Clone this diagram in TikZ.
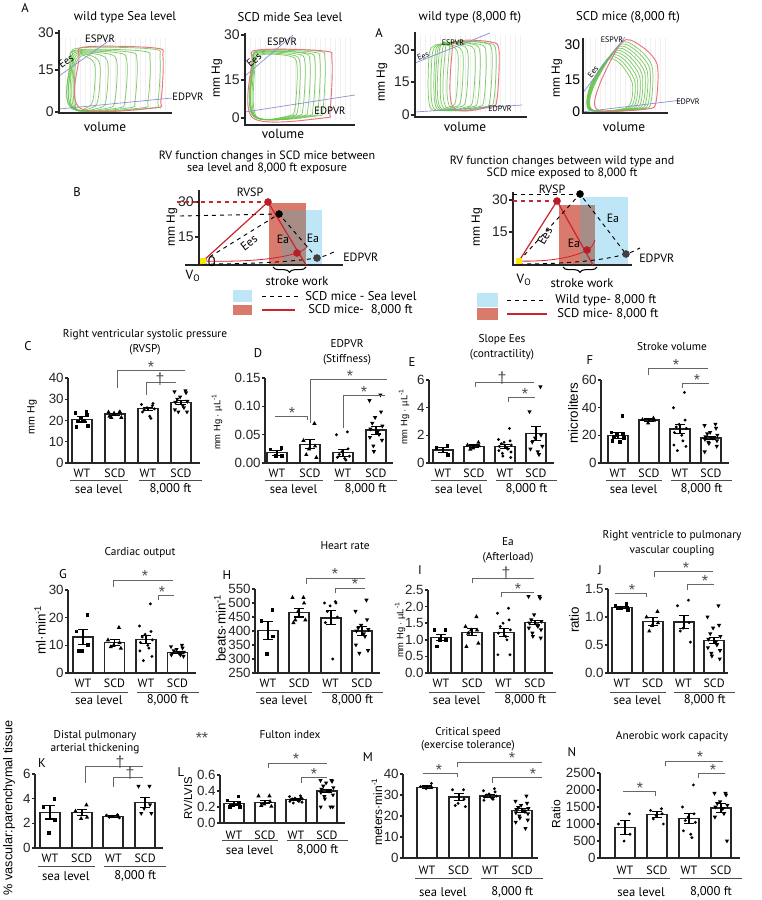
\documentclass[tikz,border=0pt]{standalone}
\usepackage{fontspec}
\setmainfont{PT Sans}
\newfontfamily\numfont{Liberation Sans}
\usetikzlibrary{calc,decorations.pathreplacing}
\definecolor{loopgreen}{RGB}{105,195,75}
\definecolor{loopred}{RGB}{232,115,125}
\definecolor{pvrblue}{RGB}{140,140,210}
\definecolor{swblue}{RGB}{190,230,246}
\definecolor{swred}{RGB}{217,122,108}
\definecolor{swboth}{RGB}{168,140,134}
\definecolor{linered}{RGB}{205,35,45}
\definecolor{ptred}{RGB}{185,30,40}
\definecolor{vzero}{RGB}{250,230,0}

\tikzset{
  axisline/.style={line width=1.1pt, black!85},
  barbox/.style={line width=1pt, black!85, fill=white},
  errbar/.style={line width=0.8pt, black},
  sigline/.style={line width=0.6pt, black!60},
  sigmark/.style={font=\numfont\fontsize{12}{12}\selectfont, text=black!70, inner sep=0pt, yshift=-2.5pt},
  ticklab/.style={left, inner sep=0.5pt, font=\numfont\fontsize{10}{10}\selectfont},
  catlab/.style={font=\fontsize{9}{9}\selectfont, inner sep=0pt},
  grpline/.style={line width=0.6pt, black!70},
  ptitle/.style={align=center, font=\fontsize{8.5}{11.5}\selectfont, inner sep=0pt},
  plabel/.style={font=\fontsize{9.5}{9.5}\selectfont, inner sep=0pt},
  ylab/.style={rotate=90, font=\numfont\fontsize{8}{8}\selectfont, inner sep=0pt},
  gridfaint/.style={black!6, line width=0.25pt},
  loopg/.style={loopgreen, line width=0.55pt, opacity=0.85},
  loopr/.style={loopred, line width=0.7pt},
  pvr/.style={pvrblue, line width=0.5pt},
  pvtext/.style={font=\fontsize{8}{8}\selectfont, inner sep=0pt},
  atitle/.style={font=\fontsize{9.5}{9.5}\selectfont, inner sep=0pt},
  btext/.style={font=\fontsize{9}{9}\selectfont, inner sep=0pt},
  redline/.style={linered, line width=0.9pt},
  blackdash/.style={black, dashed, line width=0.7pt},
  ptdot/.style={circle, fill=#1, inner sep=0pt, minimum size=5.5pt},
  brace/.style={decorate, decoration={brace, mirror, amplitude=4pt}, line width=0.8pt},
}

% scatter markers
\newcommand{\mksq}[2]{\fill ({#1},{#2}) ++(-1.4pt,-1.4pt) rectangle ++(2.8pt,2.8pt);}
\newcommand{\mkup}[2]{\fill ({#1},{#2}) ++(0,1.8pt) -- ++(-1.6pt,-2.9pt) -- ++(3.2pt,0) -- cycle;}
\newcommand{\mkdn}[2]{\fill ({#1},{#2}) ++(0,-1.8pt) -- ++(-1.6pt,2.9pt) -- ++(3.2pt,0) -- cycle;}
\newcommand{\mkci}[2]{\fill ({#1},{#2}) circle (1.2pt);}

% axis: top value, ticks value/label, x end
\newcommand{\yaxis}[3]{%
  \draw[axisline] (0,#1) -- (0,0) -- (#3,0);
  \foreach \t/\l [count=\n] in {#2}
    \draw[axisline] (0,\t) -- (-3,\t) node[ticklab] (tk\n) {\l};
}
% bar: centre, mean, sem, marker, values
\newcommand{\dbar}[5]{%
  \draw[barbox] ({#1-10},0) rectangle ({#1+10},{#2});
  \foreach \v [count=\k] in {#5} {#4{#1+6.5*sin(\k*137)}{\v}}
  \draw[errbar] ({#1-5},{#2+#3}) -- ({#1+5},{#2+#3})
    ({#1},{#2+#3}) -- ({#1},{#2-#3})
    ({#1-5},{#2-#3}) -- ({#1+5},{#2-#3});
}
% group labels under a chart
\newcommand{\xgroups}[7]{%
  \begin{scope}[shift={(#1,#2)}]
    \foreach \lab [count=\i] in {WT,SCD,WT,SCD}
      \node[catlab] (cat\i) at ({#3+(\i-1)*#4},#5) {\lab};
    \draw[grpline] ({#3-12},#6) -- ({#3+#4+13},#6);
    \draw[grpline] ({#3+2*#4-9},#6) -- ({#3+3*#4+21},#6);
    \node[catlab, font=\fontsize{9.5}{9.5}\selectfont] (sea) at ({#3+0.5*#4},#7) {sea level};
    \node[catlab, font=\fontsize{9.5}{9.5}\selectfont] (alt) at ({#3+2.5*#4+6},#7) {8,000 ft};
  \end{scope}}
% pressure-volume loops
\newcommand{\pvloop}[5][loopg]{%
  \draw[#1] plot[smooth cycle, tension=0.55] coordinates {(#2,#5) ({#2-1},{#4+12}) ({#2+5},#4) ({#3-8},{#4+1}) (#3,{#4+10}) ({#3-2},{#5-8}) ({#3-9},#5)};}
\newcommand{\triloop}[5][loopg]{%
  \draw[#1] plot[smooth cycle, tension=0.5] coordinates {({#2},110) ({#2+1},86) ({#3},{#4}) ({(#3+#5)/2},{#4+3}) ({#5},{#4+22}) ({#5-1},102) ({#5-10},109)};}

\begin{document}
\begin{tikzpicture}[x=0.75pt, y=-0.75pt]
  \fill[white] (0,0) rectangle (761,900);
  \useasboundingbox (0,0) rectangle (761,900);

  % A: wild type sea level
  \node[plabel] (lA) at (25,8) {A};
  \node[atitle] (tA1) at (125,17) {wild type Sea level};
  \draw[gridfaint, step=5] (60,38) grid (167,110);
  \foreach \l/\r/\t in {74/160/48,72/150/50,71/137/51,72/127/52,73/117/53,74/108/54,75/100/55,76/95/56}
    \pvloop{\l}{\r}{\t}{108};
  \pvloop[loopr]{80}{163}{47}{108}
  \draw[pvr] (59,76) -- (110,40);
  \draw[pvr] (59,109) -- (172,98);
  \draw[axisline] (59,30) -- (59,113) -- (172,113);
  \foreach \y/\l in {33/30,70/15,112/0}
    \draw[axisline] (59,\y) -- ++(-4,0) node[ticklab, font=\numfont\fontsize{10.5}{10.5}\selectfont] (a1t\l) {\l};
  \node[pvtext] (esA1) at (100,39) {ESPVR};
  \node[pvtext, rotate=35] (eeA1) at (66,61) {Ees};
  \node[pvtext] (edA1) at (188,97) {EDPVR};
  \node[atitle, font=\fontsize{10}{10}\selectfont] (vA1) at (105,127) {volume};

  % A: SCD sea level
  \node[atitle] (tA2) at (290,17) {SCD mide Sea level};
  \draw[gridfaint, step=5] (246,38) grid (352,120);
  \foreach \l/\r/\t in {255/325/50,254/320/51,254/315/52,253/310/52,254/305/53,255/300/54,256/297/55}
    \pvloop{\l}{\r}{\t}{116};
  \pvloop[loopr]{253}{332}{50}{118}
  \draw[pvr] (245,76) -- (293,35);
  \draw[pvr] (245,112) -- (355,95);
  \draw[axisline] (245,33) -- (245,125) -- (355,125);
  \foreach \y/\l in {35/30,80/15,118/0}
    \draw[axisline] (245,\y) -- ++(-4,0) node[ticklab, font=\numfont\fontsize{10.5}{10.5}\selectfont] (a2t\l) {\l};
  \node[ylab, font=\numfont\fontsize{9}{9}\selectfont] (yA2) at (217,78) {mm Hg};
  \node[pvtext] (esA2) at (282,42) {ESPVR};
  \node[pvtext, rotate=40] (eeA2) at (254,60) {Ees};
  \node[pvtext] (edA2) at (330,111) {EDPVR};
  \node[atitle, font=\fontsize{10}{10}\selectfont] (vA2) at (283,134) {volume};

  % A: wild type 8,000 ft
  \node[plabel] (lA2) at (379,33) {A};
  \node[ylab, font=\numfont\fontsize{9}{9}\selectfont] (yA3) at (382,82) {mm Hg};
  \node[atitle] (tA3) at (470,17) {wild type (8,000 ft)};
  \draw[gridfaint, step=5] (416,35) grid (520,112);
  \foreach \l/\r/\t in {430/458/45,433/463/45,436/468/44,438/475/44,440/480/43,443/486/43,446/492/42,450/496/42}
    \pvloop{\l}{\r}{\t}{107};
  \pvloop[loopr]{453}{499}{41}{107}
  \draw[pvr] (415,63) -- (490,33);
  \draw[pvr] (415,112) -- (522,105);
  \draw[axisline] (415,32) -- (415,117) -- (527,117);
  \foreach \y/\l in {50/30,82/15,115/0}
    \draw[axisline] (415,\y) -- ++(-4,0) node[ticklab, font=\numfont\fontsize{10.5}{10.5}\selectfont] (a3t\l) {\l};
  \node[pvtext, font=\fontsize{6}{6}\selectfont] (esA3) at (453,43) {ESPVR};
  \node[pvtext, font=\fontsize{6}{6}\selectfont, rotate=22] (eeA3) at (423,56) {Ees};
  \node[pvtext, font=\fontsize{6}{6}\selectfont] (edA3) at (500,109) {EDPVR};
  \node[atitle, font=\fontsize{10}{10}\selectfont] (vA3) at (465,127) {volume};

  % A: SCD mice 8,000 ft
  \node[atitle] (tA4) at (628,17) {SCD mice (8,000 ft)};
  \draw[gridfaint, step=5] (584,38) grid (668,110);
  \foreach \i in {0,...,8}
    \triloop{589+0.5*\i}{607+1.6*\i}{60-2*\i}{632+2.5*\i};
  \triloop[loopr]{598}{622}{42}{657}
  \draw[pvr] (582,94) -- (625,37);
  \draw[pvr] (582,112) -- (682,100);
  \draw[axisline] (583,38) -- (583,113) -- (668,113);
  \foreach \y/\l in {45/30,80/15,112/0}
    \node[ticklab, font=\numfont\fontsize{10.5}{10.5}\selectfont] (a4t\l) at (581,\y) {\l};
  \node[ylab, font=\numfont\fontsize{9}{9}\selectfont] (yA4) at (557,78) {mm Hg};
  \node[pvtext, font=\fontsize{6}{6}\selectfont] (esA4) at (612,40) {ESPVR};
  \node[pvtext, font=\fontsize{6}{6}\selectfont, rotate=50] (eeA4) at (593,72) {Ees};
  \node[pvtext, font=\fontsize{6}{6}\selectfont] (edA4) at (688,102) {EDPVR};
  \node[atitle, font=\fontsize{10}{10}\selectfont] (vA4) at (624,127) {volume};

  % B: SCD mice, sea level vs 8,000 ft
  \node[plabel] (lB) at (77,192) {B};
  \node[btext, align=center, font=\fontsize{9}{9}\selectfont] (tB1) at (267,162) {RV function changes in SCD mice between\\sea level and 8,000 ft exposure};
  \fill[swblue] (282,210) rectangle (322,265);
  \fill[swred] (269,203) rectangle (306,265);
  \fill[swboth] (282,210) rectangle (306,265);
  \draw[axisline] (199,190) -- (199,265);
  \draw[axisline] (185,265) -- (343,265);
  \draw[axisline] (199,202) -- ++(-4,0) node[ticklab, font=\numfont\fontsize{10.5}{10.5}\selectfont] (b1t30) {30};
  \draw[axisline] (199,237) -- ++(-4,0) node[ticklab, font=\numfont\fontsize{10.5}{10.5}\selectfont] (b1t15) {15};
  \node[ticklab, right, font=\numfont\fontsize{10.5}{10.5}\selectfont] (b1t0) at (207,262) {0};
  \node[ylab, font=\numfont\fontsize{9}{9}\selectfont] (yB1) at (172,227) {mm Hg};
  \node[btext, font=\fontsize{10}{10}\selectfont] (v0B1) at (193,276) {V\textsubscript{O}};
  \node[btext] (rvB1) at (250,192) {RVSP};
  \coordinate (v0a) at (203,261);
  \coordinate (rea) at (306,265);
  \node[ptdot=ptred] (rsa) at (268,202) {};
  \node[ptdot=black] (bsa) at (279,214) {};
  \node[ptdot=ptred] (rda) at (297,253) {};
  \node[ptdot=black!75] (bda) at (317,258) {};
  \draw[redline, dashed] (177,202) -- (rsa.center);
  \draw[blackdash] (180,216) -- (bsa.center);
  \draw[linered, line width=0.6pt] (v0a) .. controls (240,262) and (275,260) .. (rda.center) .. controls (302,251) .. (308,246);
  \draw[blackdash] (203,264) .. controls (250,264) and (290,262) .. (bda.center) .. controls (325,256) .. (336,251);
  \draw[redline] (v0a) -- (rsa.center) -- (rea);
  \draw[blackdash] (v0a) -- (bsa.center) -- (bda.center);
  \node[ptdot=ptred] at (rsa) {};
  \node[ptdot=black] at (bsa) {};
  \node[ptdot=ptred] at (rda) {};
  \node[ptdot=black!75] at (bda) {};
  \fill[vzero] (200,258) rectangle (206,264);
  \node[btext, rotate=38] (eeB1) at (249,243) {Ees};
  \node[btext] (eaB1) at (283,239) {Ea};
  \node[btext] (ebB1) at (313,238) {Ea};
  \node[btext, anchor=west] (edB1) at (343,257) {EDPVR};
  \draw[brace] (273,267) -- (306,267);
  \node[btext, font=\fontsize{9.5}{9.5}\selectfont] (swB1) at (297,281) {stroke work};
  \fill[swblue] (233,290) rectangle (252,302);
  \draw[blackdash] (262,296) -- (302,296);
  \node[btext, anchor=west, font=\fontsize{9.5}{9.5}\selectfont] (lgB1) at (305,296) {SCD mice - Sea level};
  \fill[swred] (233,305) rectangle (252,315);
  \draw[redline] (262,310) -- (295,310);
  \node[btext, anchor=west, font=\fontsize{9.5}{9.5}\selectfont] (lgB2) at (308,310) {SCD mice-\ \ 8,000 ft};

  % B: wild type vs SCD at 8,000 ft
  \node[btext, align=center, font=\fontsize{9}{9}\selectfont] (tB2) at (562,167) {RV function changes between wild type and\\SCD mice exposed to 8,000 ft};
  \fill[swblue] (580,197) rectangle (628,265);
  \fill[swred] (559,205) rectangle (595,265);
  \fill[swboth] (580,205) rectangle (595,265);
  \draw[axisline] (513,192) -- (513,265) -- (632,265);
  \draw[axisline] (513,200) -- ++(-4,0) node[ticklab, font=\numfont\fontsize{10.5}{10.5}\selectfont] (b2t30) {30};
  \draw[axisline] (513,232) -- ++(-4,0) node[ticklab, font=\numfont\fontsize{10.5}{10.5}\selectfont] (b2t15) {15};
  \node[ylab, font=\numfont\fontsize{9}{9}\selectfont] (yB2) at (477,227) {mm Hg};
  \node[btext, font=\fontsize{10}{10}\selectfont] (v0B2) at (524,280) {V\textsubscript{O}};
  \node[btext] (rvB2) at (552,189) {RVSP};
  \coordinate (v0b) at (519,261);
  \coordinate (reb) at (593,265);
  \node[ptdot=ptred] (rsb) at (557,201) {};
  \node[ptdot=black] (bsb) at (580,194) {};
  \node[ptdot=ptred] (rdb) at (587,250) {};
  \node[ptdot=black!75] (bdb) at (626,254) {};
  \draw[blackdash] (513,194) -- (bsb.center);
  \draw[redline, dashed] (513,201) -- (rsb.center);
  \draw[linered, line width=0.6pt] (v0b) .. controls (550,262) and (575,257) .. (rdb.center) .. controls (592,247) .. (595,240);
  \draw[blackdash] (519,264) .. controls (570,264) and (605,260) .. (bdb.center) .. controls (632,252) .. (640,248);
  \draw[redline] (v0b) -- (rsb.center) -- (reb);
  \draw[blackdash] (v0b) -- (bsb.center) -- (bdb.center);
  \node[ptdot=ptred] at (rsb) {};
  \node[ptdot=black] at (bsb) {};
  \node[ptdot=ptred] at (rdb) {};
  \node[ptdot=black!75] at (bdb) {};
  \fill[vzero] (516,258) rectangle (522,264);
  \node[btext, rotate=60] (eeB2) at (545,236) {Ees};
  \node[btext] (eaB2) at (574,243) {Ea};
  \node[btext] (ebB2) at (613,218) {Ea};
  \node[btext, anchor=west] (edB2) at (639,258) {EDPVR};
  \draw[brace] (563,267) -- (597,267);
  \node[btext, font=\fontsize{9.5}{9.5}\selectfont] (swB2) at (582,283) {stroke work};
  \fill[swblue] (477,293) rectangle (498,307);
  \draw[blackdash] (507,300) -- (547,300);
  \node[btext, anchor=west, font=\fontsize{9.5}{9.5}\selectfont] (lgB3) at (555,300) {Wild type- 8,000 ft};
  \fill[swred] (477,308) rectangle (498,320);
  \draw[redline] (507,314) -- (547,314);
  \node[btext, anchor=west, font=\fontsize{9.5}{9.5}\selectfont] (lgB4) at (557,314) {SCD mice- 8,000 ft};

  % C: RVSP
  \node[plabel] (lC) at (28,346) {C};
  \node[ptitle] (tC) at (145,342) {Right ventricular systolic pressure\\(RVSP)};
  \node[ylab] (yC) at (32,417) {mm Hg};
  \begin{scope}[shift={(68,463)}, y={(0pt,1.594pt)}]
    \yaxis{40}{0/0,10/10,20/20,30/30,40/40}{132}
    \dbar{14}{20.5}{1.2}{\mksq}{24,23.5,22.5,21,19.5,17.5,17,20}
    \dbar{47}{23}{0.5}{\mkup}{24,24,24,23.5,21.5,21.5,22}
    \dbar{80}{25.5}{0.8}{\mkci}{27,27.5,28,26,25,25.5,24,22,21}
    \dbar{113}{28.5}{1}{\mkdn}{34,33.5,33,31,30,29,28.5,27,26,25,24,24}
  \end{scope}
  \xgroups{68}{463}{14}{33}{10}{17}{26}
  \draw[sigline] (117,388) |- (185,370);
  \node[sigmark] (sC1) at (151,364) {*};
  \draw[sigline] (146,395) |- (176,382);
  \node[sigmark] (sC2) at (160,376) {\textdagger};

  % D: EDPVR
  \node[plabel] (lD) at (258,353) {D};
  \node[ptitle] (tD) at (347,352) {EDPVR\\(Stiffness)};
  \node[ylab, font=\numfont\fontsize{7}{7}\selectfont] (yD) at (217,422) {mm Hg $\cdot$ µL\textsuperscript{-1}};
  \begin{scope}[shift={(265,463)}, y={(0pt,425pt)}]
    \yaxis{0.15}{0/0.00,0.05/0.05,0.1/0.10,0.15/0.15}{128}
    \dbar{12}{0.018}{0.004}{\mksq}{0.027,0.024,0.012,0.012}
    \dbar{45}{0.033}{0.008}{\mkup}{0.07,0.04,0.03,0.025,0.015,0.01}
    \dbar{78}{0.018}{0.006}{\mkci}{0.055,0.05,0.025,0.02,0.015,0.012,0.01,0.008,0.005}
    \dbar{111}{0.058}{0.007}{\mkdn}{0.12,0.11,0.09,0.08,0.07,0.065,0.06,0.055,0.05,0.045,0.04,0.03,0.02}
  \end{scope}
  \xgroups{265}{463}{12}{33}{10}{17}{26}
  \draw[sigline] (275,416) -| (307,420);
  \node[sigmark] (sD1) at (292,410) {*};
  \draw[sigline] (310,423) |- (387,379);
  \node[sigmark] (sD2) at (350,373) {*};
  \draw[sigline] (343,428) |- (385,395);
  \node[sigmark] (sD3) at (364,389) {*};

  % E: Slope Ees
  \node[plabel] (lE) at (412,362) {E};
  \node[ptitle] (tE) at (502,347) {Slope Ees\\(contractility)};
  \node[ylab, font=\numfont\fontsize{7}{7}\selectfont] (yE) at (404,417) {mm Hg $\cdot$ µL\textsuperscript{-1}};
  \begin{scope}[shift={(429,463)}, y={(0pt,10.375pt)}]
    \yaxis{6}{0/0,2/2,4/4,6/6}{125}
    \dbar{14}{0.95}{0.2}{\mksq}{1.25,1.1,0.6}
    \dbar{45}{1.2}{0.1}{\mkup}{1.5,1.3,1.25,1.1,1.0}
    \dbar{76}{1.2}{0.15}{\mkci}{2.5,1.7,1.6,1.5,1.4,1.3,1.2,1.1,1.0,0.9,0.8,0.7,0.5,0.4}
    \dbar{107}{2.15}{0.5}{\mkdn}{5.5,3.7,2.0,1.8,1.5,1.2,1.0,0.8,0.6}
  \end{scope}
  \xgroups{429}{463}{14}{31}{10}{17}{26}
  \draw[sigline] (475,387) |- (534,382);
  \node[sigmark] (sE1) at (502,375) {\textdagger};
  \draw[sigline] (508,402) |- (535,397);
  \node[sigmark] (sE2) at (525,391) {*};

  % F: stroke volume
  \node[plabel] (lF) at (590,360) {F};
  \node[ptitle] (tF) at (672,347) {Stroke volume};
  \node[ylab, font=\numfont\fontsize{10}{10}\selectfont] (yF) at (573,413) {microliters};
  \begin{scope}[shift={(601,463)}, y={(0pt,1.0375pt)}]
    \yaxis{60}{0/0,20/20,40/40,60/60}{128}
    \dbar{17}{20}{2}{\mksq}{34,22,21,20,19,18,16,15}
    \dbar{48}{31}{0.8}{\mkup}{32.5,31.5,31,29}
    \dbar{79}{24.5}{3}{\mkci}{51,40,31,28,26,25,22,20,16,13,12,9}
    \dbar{110}{18}{1.2}{\mkdn}{28,27,25,22,21,20,19,18,18,17,16,15,14,12,8}
  \end{scope}
  \xgroups{601}{463}{17}{31}{10}{17}{26}
  \draw[sigline] (648,375) |- (708,368);
  \node[sigmark] (sF1) at (676,362) {*};
  \draw[sigline] (682,388) |- (709,383);
  \node[sigmark] (sF2) at (697,377) {*};

  % G: cardiac output
  \node[plabel] (lG) at (63,574) {G};
  \node[ptitle] (tG) at (140,553) {Cardiac output};
  \node[ylab, font=\numfont\fontsize{10}{10}\selectfont] (yG) at (40,630) {ml·min\textsuperscript{-1}};
  \begin{scope}[shift={(68,673)}, y={(0pt,2.075pt)}]
    \yaxis{30}{0/0,10/10,20/20,30/30}{128}
    \dbar{15}{13}{2.6}{\mksq}{21,15,10,8,8}
    \dbar{46.5}{11}{1.2}{\mkup}{16.5,12,11,10,9.5,9}
    \dbar{78}{12}{1.5}{\mkci}{25,17,15,14,13,12,11,10,9,8,6,4.5}
    \dbar{109.5}{7.5}{0.4}{\mkdn}{10,9.5,9,8.5,8,7.5,7,7,6.5,6.5,6}
  \end{scope}
  \xgroups{68}{673}{15}{31.5}{10}{19}{27}
  \draw[sigline] (113,587) |- (173,580);
  \node[sigmark] (sG1) at (145,573) {*};
  \draw[sigline] (158,600) |- (174,595);
  \node[sigmark] (sG2) at (162,589) {*};

  % H: heart rate
  \node[plabel] (lH) at (227,575) {H};
  \node[ptitle] (tH) at (345,546) {Heart rate};
  \node[ylab, font=\numfont\fontsize{10}{10}\selectfont] (yH) at (220,628) {beats·min\textsuperscript{-1}};
  \begin{scope}[shift={(255,673)}, y={(0pt,0.21pt)}]
    \yaxis{300}{0/250,50/300,100/350,150/400,200/450,250/500,300/550}{125}
    \dbar{13}{152}{33}{\mksq}{225,185,130,68}
    \dbar{44}{215}{15}{\mkup}{270,270,250,220,190,190,180}
    \dbar{76}{197}{25}{\mkci}{255,250,250,240,220,200,180,50}
    \dbar{107}{150}{15}{\mkdn}{260,220,190,170,160,155,150,140,130,100,80,70}
  \end{scope}
  \xgroups{255}{673}{13}{31.3}{10}{19}{27}
  \draw[sigline] (306,584) |- (365,578);
  \node[sigmark] (sH1) at (335,571) {*};
  \draw[sigline] (335,593) |- (365,588);
  \node[sigmark] (sH2) at (355,581) {*};

  % I: Ea
  \node[plabel] (lI) at (420,570) {I};
  \node[ptitle] (tI) at (508,550) {Ea\\(Afterload)};
  \node[ylab, font=\numfont\fontsize{7}{7}\selectfont] (yI) at (400,630) {mm Hg $\cdot$ µL\textsuperscript{-1}};
  \begin{scope}[shift={(428,673)}, y={(0pt,24.9pt)}]
    \yaxis{2.5}{0/0.0,0.5/0.5,1/1.0,1.5/1.5,2/2.0,2.5/2.5}{125}
    \dbar{13}{1.07}{0.1}{\mksq}{1.3,1.3,1.0,1.0,0.8}
    \dbar{44}{1.23}{0.1}{\mkup}{1.7,1.4,1.3,1.3,1.2,0.9,0.8}
    \dbar{76}{1.22}{0.13}{\mkci}{1.95,1.8,1.6,1.5,1.4,1.3,1.2,1.1,1.0,0.55,0.55}
    \dbar{107}{1.52}{0.07}{\mkdn}{2.3,2.3,2.25,1.75,1.6,1.55,1.5,1.45,1.4,1.35,1.3,1.2,1.1,1.05}
  \end{scope}
  \xgroups{428}{673}{13}{31.3}{10}{19}{27}
  \draw[sigline] (472,583) |- (534,578);
  \node[sigmark] (sI1) at (506,570) {\textdagger};
  \draw[sigline] (501,597) |- (534,592);
  \node[sigmark] (sI2) at (518,586) {*};

  % J: RV-PA coupling
  \node[plabel] (lJ) at (600,570) {J};
  \node[ptitle] (tJ) at (672,543) {Right ventricle to pulmonary\\vascular coupling};
  \node[ylab, font=\numfont\fontsize{10}{10}\selectfont] (yJ) at (574,620) {ratio};
  \begin{scope}[shift={(608,673)}, y={(0pt,42pt)}]
    \yaxis{1.5}{0/0.0,0.5/0.5,1/1.0,1.5/1.5}{120}
    \dbar{14}{1.17}{0.02}{\mksq}{1.23,1.2,1.17,1.15,1.15,1.12}
    \dbar{45}{0.92}{0.07}{\mkup}{1.1,1.0,0.9,0.85,0.75}
    \dbar{76}{0.91}{0.12}{\mkci}{1.3,1.2,0.9,0.8,0.75,0.55}
    \dbar{106}{0.58}{0.06}{\mkdn}{1.2,1.0,0.85,0.8,0.7,0.65,0.6,0.55,0.5,0.45,0.4,0.35,0.3,0.25}
  \end{scope}
  \xgroups{608}{673}{14}{30.7}{10}{19}{27}
  \draw[sigline] (615,593) -| (646,597);
  \node[sigmark] (sJ1) at (632,587) {*};
  \draw[sigline] (654,577) |- (713,571);
  \node[sigmark] (sJ2) at (686,565) {*};
  \draw[sigline] (687,590) |- (714,584);
  \node[sigmark] (sJ3) at (705,578) {*};

  % K: distal pulmonary arterial thickening
  \node[plabel] (lK) at (42,763) {K};
  \node[ptitle, font=\fontsize{8.5}{10}\selectfont] (tK) at (95,742) {Distal pulmonary\\arterial thickening};
  \node[ylab, font=\numfont\fontsize{9.5}{9.5}\selectfont] (yK) at (9,808) {\% vascular:parenchymal tissue};
  \node[sigmark] (dstar) at (202,735) {**};
  \begin{scope}[shift={(35,848)}, y={(0pt,9.25pt)}]
    \yaxis{6}{0/0,2/2,4/4,6/6}{128}
    \dbar{15}{2.9}{0.55}{\mksq}{4.0,3.3,2.3,1.2}
    \dbar{47}{2.9}{0.25}{\mkup}{3.5,3.0,2.5,2.4}
    \dbar{78}{2.55}{0.05}{\mkci}{2.7,2.65,2.6,2.55,2.5,2.45}
    \dbar{110}{3.7}{0.4}{\mkdn}{5,5,3.5,3.2,2.8,2.8}
  \end{scope}
  \xgroups{35}{848}{15}{31.7}{10}{18}{28}
  \draw[sigline] (85,783) |- (143,766);
  \node[sigmark] (sK1) at (120,759) {\textdagger};
  \draw[sigline] (113,787) |- (143,777);
  \node[sigmark] (sK2) at (130,770) {\textdagger};

  % L: Fulton index
  \node[plabel] (lL) at (181,772) {L};
  \node[ptitle] (tL) at (290,735) {Fulton  index};
  \node[ylab, font=\numfont\fontsize{8.5}{8.5}\selectfont] (yL) at (188,798) {RV/LVIS};
  \begin{scope}[shift={(220,823)}, y={(0pt,60pt)}]
    \yaxis{0.6}{0/0.0,0.2/0.2,0.4/0.4,0.6/0.6}{125}
    \dbar{14}{0.245}{0.02}{\mksq}{0.33,0.28,0.25,0.22,0.2,0.2}
    \dbar{45}{0.26}{0.02}{\mkup}{0.34,0.34,0.27,0.24,0.22,0.21}
    \dbar{76}{0.29}{0.01}{\mkci}{0.34,0.33,0.32,0.31,0.3,0.3,0.29,0.28,0.27,0.27,0.26,0.25}
    \dbar{107}{0.40}{0.02}{\mkdn}{0.53,0.53,0.52,0.5,0.46,0.44,0.42,0.4,0.4,0.38,0.35,0.33,0.3,0.2,0.2,0.2}
  \end{scope}
  \xgroups{220}{823}{14}{31}{12}{17}{27}
  \draw[sigline] (268,768) |- (327,763);
  \node[sigmark] (sL1) at (296,756) {*};
  \draw[sigline] (301,783) |- (327,777);
  \node[sigmark] (sL2) at (314,771) {*};

  % M: critical speed
  \node[plabel] (lM) at (368,757) {M};
  \node[ptitle, font=\fontsize{8.5}{10}\selectfont] (tM) at (468,739) {Critical speed\\(exercise tolerance)};
  \node[ylab, font=\numfont\fontsize{9}{9}\selectfont] (yM) at (377,812) {meters·min\textsuperscript{-1}};
  \begin{scope}[shift={(403,858)}, y={(0pt,1.575pt)}]
    \yaxis{40}{0/0,10/10,20/20,30/30,40/40}{135}
    \dbar{24}{33.7}{0.6}{\mkci}{35.5,34,33.5,33}
    \dbar{56}{29}{1.5}{\mkci}{32.5,32.5,28,26,25,24.5}
    \dbar{87}{29.5}{0.6}{\mkci}{33,32,31.5,30.5,30,29.5,29,28.5,28,27.5}
    \dbar{119}{22.5}{0.9}{\mkdn}{29.5,27,26,25,24,23.5,23,22.5,22,21.5,21,20,19,18,17,14}
  \end{scope}
  \xgroups{403}{858}{24}{31.7}{12}{20}{34}
  \draw[sigline] (423,773) -| (457,777);
  \node[sigmark] (sM1) at (439,767) {*};
  \draw[sigline] (457,767) |- (542,762);
  \node[sigmark] (sM2) at (512,755) {*};
  \draw[sigline] (492,783) |- (542,777);
  \node[sigmark] (sM3) at (533,771) {*};

  % N: anaerobic work capacity
  \node[plabel] (lN) at (572,752) {N};
  \node[ptitle] (tN) at (672,737) {Anerobic work capacity};
  \node[ylab, font=\numfont\fontsize{9}{9}\selectfont] (yN) at (556,814) {Ratio};
  \begin{scope}[shift={(600,858)}, y={(0pt,0.0255pt)}]
    \yaxis{2500}{0/0,500/500,1000/1000,1500/1500,2000/2000,2500/2500}{140}
    \dbar{25}{900}{200}{\mkci}{1300,1000,700,500}
    \dbar{57}{1280}{80}{\mkci}{1450,1400,1300,1250,1150,1000}
    \dbar{89}{1170}{150}{\mkci}{2150,1500,1300,1200,1100,1050,800,700,600}
    \dbar{121}{1470}{120}{\mkdn}{1900,1900,1850,1650,1600,1550,1500,1450,1300,1200,500}
  \end{scope}
  \xgroups{600}{858}{25}{32}{12}{20}{34}
  \draw[sigline] (623,791) -| (655,796);
  \node[sigmark] (sN1) at (640,785) {*};
  \draw[sigline] (665,766) |- (723,761);
  \node[sigmark] (sN2) at (700,754) {*};
  \draw[sigline] (698,778) |- (725,773);
  \node[sigmark] (sN3) at (713,767) {*};
\end{tikzpicture}
\end{document}
